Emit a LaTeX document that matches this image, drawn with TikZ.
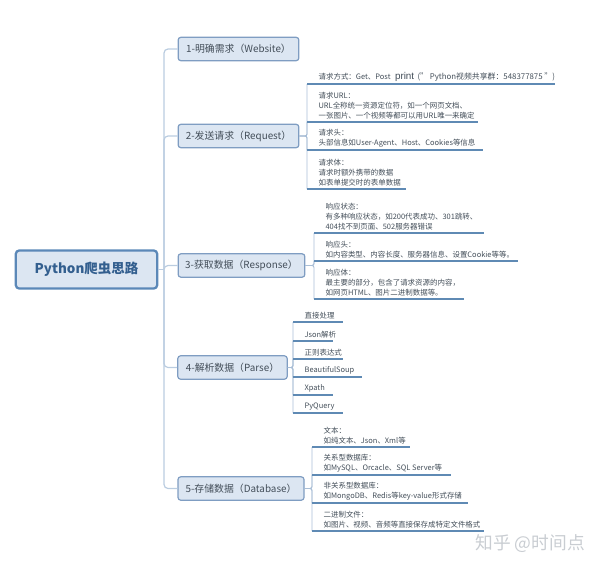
\documentclass[tikz,border=0pt]{standalone}
\usepackage{fontspec}
\setmainfont{Noto Sans CJK SC}
\newfontfamily\printfont{Liberation Sans}
\definecolor{BoxFill}{HTML}{DCE6F2}
\definecolor{RootEdge}{HTML}{5B88B8}
\definecolor{BoxEdge}{HTML}{7F9DC2}
\definecolor{Limb}{HTML}{BACCE0}
\definecolor{Twig}{HTML}{A9BED6}
\definecolor{Under}{HTML}{5F8AB4}
\definecolor{Ink}{HTML}{434E59}
\definecolor{RootInk}{HTML}{335F8F}
\definecolor{Mark}{HTML}{C9CDD2}

\begin{document}
\begin{tikzpicture}[x=0.75pt,y=-0.75pt,
      every node/.append style={text=Ink},
      limb/.style={draw=Limb,line width=0.9pt,rounded corners=3pt},
      twig/.style={draw=Twig,line width=0.7pt,rounded corners=1.5pt},
      under/.style={draw=Under,line width=0.9pt}]
    \tikzstyle{rootbox} = [draw=RootEdge,fill=BoxFill,line width=1.7pt,rounded corners=2.5pt,
      minimum width=106pt,minimum height=28.5pt,inner sep=0pt,
      font=\fontsize{10.1}{12}\selectfont\bfseries,text=RootInk]
    \tikzstyle{stem} = [draw=BoxEdge,fill=BoxFill,line width=0.9pt,rounded corners=2pt,
      minimum height=17.5pt,inner sep=0pt,font=\fontsize{7.4}{9}\selectfont]
    \tikzstyle{word} = [anchor=south west,align=left,xshift=8.5pt,inner xsep=0pt,inner ysep=2pt,
      font=\fontsize{5.6}{7.6}\selectfont]
    \useasboundingbox (0,0) rectangle (600,569);

    \node (root) [rootbox] at (86.5,269.5) {Python爬虫思路};
    \coordinate (hub) at (164,269.5);

    \node (website) [stem,minimum width=90.5pt] at (238.5,49) {1-明确需求（Website）};
    \node (request) [stem,minimum width=90.5pt] at (238.5,136) {2-发送请求（Request）};
    \node (response) [stem,minimum width=95pt] at (241.5,265.5) {3-获取数据（Response）};
    \node (parse) [stem,minimum width=82pt] at (232.5,367.5) {4-解析数据（Parse）};
    \node (database) [stem,minimum width=94.5pt] at (241,488.5) {5-存储数据（Database）};

    \draw[limb] (root.east) -- (hub);
    \foreach \stem in {website,request,response,parse,database}
      \draw[limb] (hub) |- (\stem.west);

    % request
    \node (reqa) [word] at (307,84)
      {请求方式：Get、Post {\printfont\fontsize{7.4}{7.6}\selectfont\ print}\ \ {\fontsize{5.9}{7.6}\selectfont (" Python视频共享群：548377875 ")}};
    \node (reqb) [word] at (307,122)
      {请求URL：\\URL全称统一资源定位符，如一个网页文档、\\一张图片、一个视频等都可以用URL唯一来确定};
    \node (reqc) [word] at (307,150)
      {请求头：\\头部信息如User-Agent、Host、Cookies等信息};
    \node (reqd) [word] at (307,189)
      {请求体：\\请求时额外携带的数据\\如表单提交时的表单数据};

    % response
    \node (resa) [word] at (314,233)
      {响应状态：\\有多种响应状态，如200代表成功、301跳转、\\404找不到页面、502服务器错误};
    \node (resb) [word] at (314,261)
      {响应头：\\如内容类型、内容长度、服务器信息、设置Cookie等等。};
    \node (resc) [word] at (314,299)
      {响应体：\\最主要的部分，包含了请求资源的内容，\\如网页HTML、图片二进制数据等。};

    % parse
    \node (para) [word] at (293,322) {直接处理};
    \node (parb) [word] at (293,341) {Json解析};
    \node (parc) [word] at (293,359) {正则表达式};
    \node (pard) [word] at (293,377) {BeautifulSoup};
    \node (pare) [word] at (293,395) {Xpath};
    \node (parf) [word] at (293,413) {PyQuery};

    % database
    \node (data) [word] at (312,447)
      {文本：\\如纯文本、Json、Xml等};
    \node (datb) [word] at (312,475)
      {关系型数据库：\\如MySQL、Orcacle、SQL Server等};
    \node (datc) [word] at (312,503)
      {非关系型数据库：\\如MongoDB、Redis等key-value形式存储};
    \node (datd) [word] at (312,531)
      {二进制文件：\\如图片、视频、音频等直接保存成特定文件格式};

    \foreach \item in {reqa,reqb,reqc,reqd}
      \draw[twig] (request.east) -| ([xshift=-8.5pt]\item.south west);
    \foreach \item in {resa,resb,resc}
      \draw[twig] (response.east) -| ([xshift=-8.5pt]\item.south west);
    \foreach \item in {para,parb,parc,pard,pare,parf}
      \draw[twig] (parse.east) -| ([xshift=-8.5pt]\item.south west);
    \foreach \item in {data,datb,datc,datd}
      \draw[twig] (database.east) -| ([xshift=-8.5pt]\item.south west);
    \foreach \item/\len in {reqa/248,reqb/171,reqc/176,reqd/99,resa/170,resb/204,resc/150,
        para/50,parb/40,parc/50,pard/69,pare/40,parf/50,data/98,datb/139,datc/156,datd/172}
      \draw[under] ([xshift=-8.5pt]\item.south west) -- ++(\len,0);

    \node (mark) [anchor=east,inner sep=0pt,text=Mark,font=\fontsize{13.3}{15}\selectfont] at (585,544) {知乎 @时间点};
\end{tikzpicture}
\end{document}
